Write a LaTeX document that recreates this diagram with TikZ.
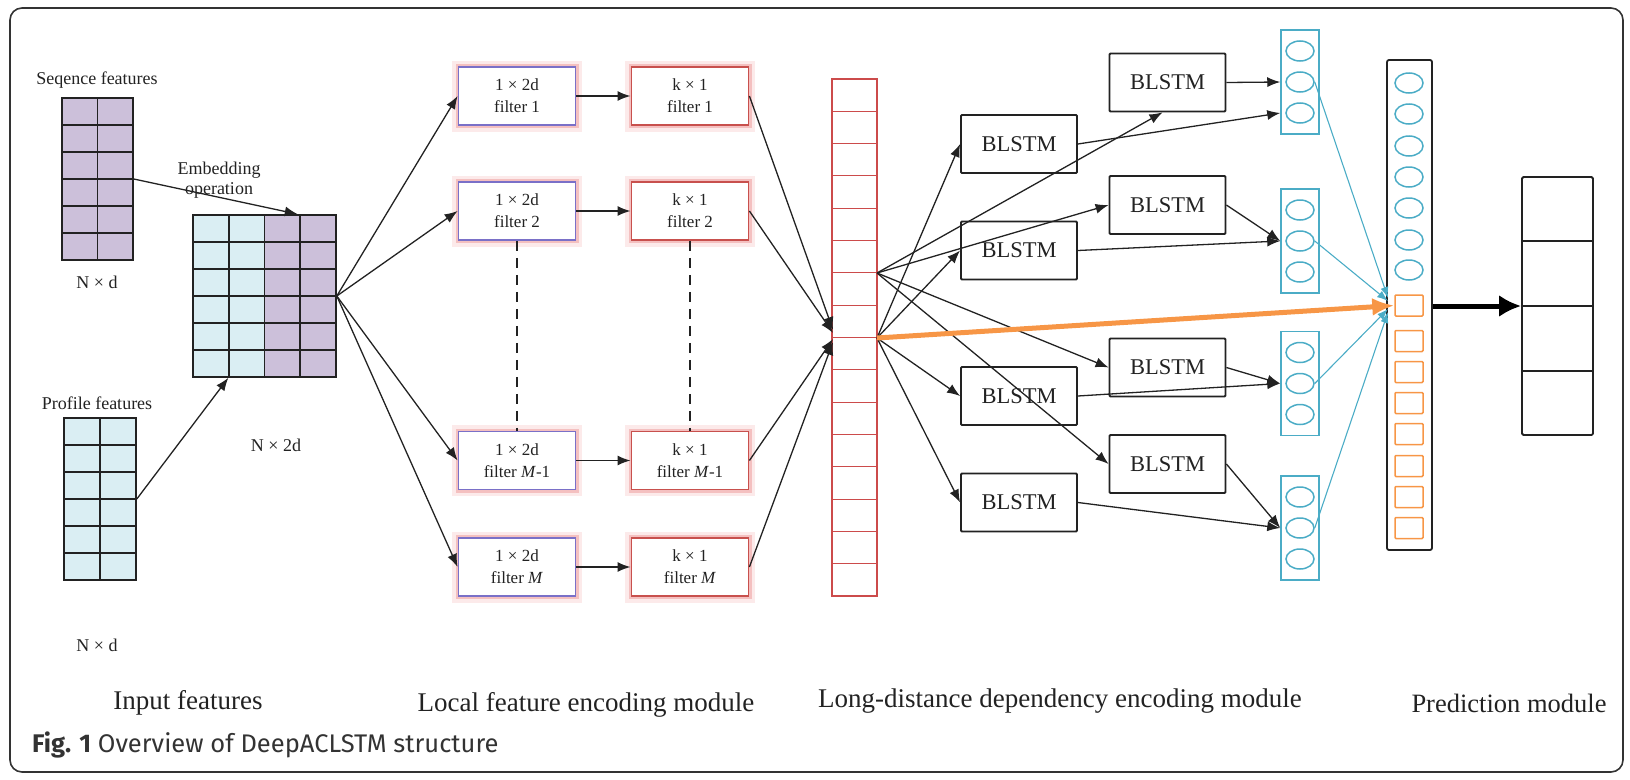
\documentclass[tikz,border=0pt]{standalone}
\usepackage{fontspec}
\setmainfont{Liberation Serif}
\newfontfamily\capfont{Fira Sans}
\usetikzlibrary{arrows.meta,calc,shapes.geometric}
\definecolor{purp}{HTML}{CCC0DA}
\definecolor{lblue}{HTML}{DAEEF3}
\definecolor{redc}{HTML}{CC4B4B}
\definecolor{fblue}{HTML}{7A70C8}
\definecolor{fred}{HTML}{C8504D}
\definecolor{glowA}{HTML}{FCEAEA}
\definecolor{glowB}{HTML}{F4C0C0}
\definecolor{cyanc}{HTML}{4BACC6}
\definecolor{orangec}{HTML}{F79646}
\definecolor{ink}{HTML}{222222}
\begin{document}
\begin{tikzpicture}[x=1pt,y=-1pt,
  gridline/.style={line width=1.6pt, draw=ink},
  gridbox/.style={draw=ink, line width=1.6pt, inner sep=0pt},
  conn/.style={-{Latex[length=13pt,width=10pt]}, line width=1.3pt, draw=ink},
  small/.style={font=\fontsize{18}{20}\selectfont, text=ink, align=center},
  big/.style={font=\fontsize{27}{32}\selectfont, text=ink},
  fbox/.style={minimum width=117pt, minimum height=58pt, inner sep=0pt, fill=white,
    line width=1.8pt, align=center, text=ink, font=\fontsize{17}{22}\selectfont,
    preaction={draw=glowA, line width=13pt, rounded corners=4pt},
    preaction={draw=glowB, line width=6pt, rounded corners=2pt}},
  blstm/.style={draw=ink, line width=1.8pt, minimum width=116pt, minimum height=58pt,
    inner sep=0pt, text=ink, font=\fontsize{22.5}{27}\selectfont, rounded corners=1pt},
  circ/.style={ellipse, draw=cyanc, line width=1.5pt, minimum width=28pt, minimum height=20pt, inner sep=0pt},
  osq/.style={draw=orangec, line width=1.5pt, minimum width=28pt, minimum height=21pt, inner sep=0pt, rounded corners=1pt},
  ccol/.style={draw=cyanc, line width=1.5pt, minimum width=38pt, minimum height=104pt, inner sep=0pt},
  bconn/.style={-{Latex[length=11pt,width=8pt]}, line width=1.1pt, draw=cyanc, color=cyanc},
  dashl/.style={line width=1.6pt, draw=ink, dash pattern=on 10pt off 7pt}
]
\useasboundingbox (0,0) rectangle (1630,779);
% outer frame
\draw[line width=1.6pt, draw=black!80, rounded corners=12pt] (10,8) rectangle (1623,772);

% ---------- Input features ----------
\node[small] (seqlab) at (97,80) {Seqence features};
\node[gridbox, fill=purp, minimum width=71pt, minimum height=162pt] (seq) at (97.5,179) {};
\foreach \i in {1,...,5} \draw[gridline] (62,{98+27*\i}) -- (133,{98+27*\i});
\draw[gridline] (97.5,98) -- (97.5,260);
\node[small] (seqdim) at (97,282) {N × d};

\node[small] (proflab) at (97,403) {Profile features};
\node[gridbox, fill=lblue, minimum width=72pt, minimum height=162pt] (prof) at (100,499) {};
\foreach \i in {1,...,5} \draw[gridline] (64,{418+27*\i}) -- (136,{418+27*\i});
\draw[gridline] (100,418) -- (100,580);
\node[small] (profdim) at (97,645) {N × d};

\fill[lblue] (193,215) rectangle (264.5,377);
\fill[purp] (264.5,215) rectangle (336,377);
\node[gridbox, minimum width=143pt, minimum height=162pt] (emb) at (264.5,296) {};
\foreach \i in {1,...,5} \draw[gridline] (193,{215+27*\i}) -- (336,{215+27*\i});
\foreach \x in {229,264.5,300} \draw[gridline] (\x,215) -- (\x,377);
\node[small] (embdim) at (276,445) {N × 2d};
\node[small] (emblab) at (219,180) {Embedding\\operation};

\draw[conn] (seq.east) -- ($(emb.north west)!0.73!(emb.north east)$);
\draw[conn] (prof.east) -- ($(emb.south west)!0.25!(emb.south east)$);

% ---------- Local feature encoding ----------
\node[fbox, draw=fblue] (l1) at (517,96) {1 × 2d\\filter 1};
\node[fbox, draw=fblue] (l2) at (517,211) {1 × 2d\\filter 2};
\node[fbox, draw=fblue] (l3) at (517,460.5) {1 × 2d\\filter \textit{M}-1};
\node[fbox, draw=fblue] (l4) at (517,567) {1 × 2d\\filter \textit{M}};
\node[fbox, draw=fred] (r1) at (690,96) {k × 1\\filter 1};
\node[fbox, draw=fred] (r2) at (690,211) {k × 1\\filter 2};
\node[fbox, draw=fred] (r3) at (690,460.5) {k × 1\\filter \textit{M}-1};
\node[fbox, draw=fred] (r4) at (690,567) {k × 1\\filter \textit{M}};
\foreach \i in {1,...,4} {
  \draw[conn] (emb.east) -- (l\i.west);
  \draw[conn, line width=1.7pt] (l\i.east) -- (r\i.east -| r\i.west);
}
\draw[dashl] (l2.south) -- (l3.north);
\draw[dashl] (r2.south) -- (r3.north);

% red column
\node[draw=redc, line width=1.1pt, minimum width=45pt, minimum height=517pt, inner sep=0pt] (redcol) at (854.5,337.5) {};
\foreach \i in {1,...,15} \draw[redc, line width=1.1pt] (832,{79+517/16*\i}) -- (877,{79+517/16*\i});
\coordinate (rin1) at (833,330);
\coordinate (rin2) at (833,333);
\coordinate (rin3) at (833,339);
\coordinate (rin4) at (833,342);
\draw[conn] (r1.east) -- (rin1);
\draw[conn] (r2.east) -- (rin2);
\draw[conn] (r3.east) -- (rin3);
\draw[conn] (r4.east) -- (rin4);

% ---------- Long-distance dependency ----------
\coordinate (A) at (877,273);
\coordinate (B) at (877,338);
\node[blstm] (L1) at (1019,144) {BLSTM};
\node[blstm] (L2) at (1019,250.5) {BLSTM};
\node[blstm] (L3) at (1019,396) {BLSTM};
\node[blstm] (L4) at (1019,502.5) {BLSTM};
\node[blstm] (R1) at (1167.5,82.5) {BLSTM};
\node[blstm] (R2) at (1167.5,205) {BLSTM};
\node[blstm] (R3) at (1167.5,367.5) {BLSTM};
\node[blstm] (R4) at (1167.5,464) {BLSTM};

\draw[conn] (A) -- ($(R1.south)+(-5,0)$);
\draw[conn] (A) -- (R2.west);
\draw[conn] (A) -- (R3.west);
\draw[conn] (A) -- (R4.west);
\draw[conn] (B) -- (L1.west);
\draw[conn] (B) -- (L2.west);
\draw[conn] (B) -- (L3.west);
\draw[conn] (B) -- (L4.west);

% cyan columns
\foreach \n/\cy in {1/82,2/241,3/383.5,4/528} {
  \node[ccol] (c\n) at (1300,\cy) {};
  \node[circ] (c\n-a) at (1300,{\cy-31}) {};
  \node[circ] (c\n-b) at (1300,\cy) {};
  \node[circ] (c\n-c) at (1300,{\cy+31}) {};
}
\draw[conn] (R1.east) -- (c1.west |- c1-b.west);
\draw[conn] (L1.east) -- (c1.west |- c1-c.west);
\draw[conn] (R2.east) -- (c2.west |- c2-b.west);
\draw[conn] (L2.east) -- (c2.west |- c2-b.west);
\draw[conn] (R3.east) -- (c3.west |- c3-b.west);
\draw[conn] (L3.east) -- (c3.west |- c3-b.west);
\draw[conn] (R4.east) -- (c4.west |- c4-b.west);
\draw[conn] (L4.east) -- (c4.west |- c4-b.west);

% ---------- Prediction ----------
\node[draw=ink, line width=1.8pt, rounded corners=2pt, minimum width=45pt, minimum height=490pt, inner sep=0pt] (pred) at (1409.5,305) {};
\foreach \y in {83,114,146,177,208,240,270} \node[circ] (p\y) at (1409,\y) {};
\foreach \i/\y in {1/305.5,2/341,3/372,4/403,5/434,6/466,7/497,8/528} \node[osq] (o\i) at (1409,\y) {};

\coordinate (P1) at (1388,298);
\coordinate (P2) at (1388,301);
\coordinate (P3) at (1388,309);
\coordinate (P4) at (1388,312);
\draw[bconn] (c1-b.east) -- (P1);
\draw[bconn] (c2-b.east) -- (P2);
\draw[bconn] (c3-b.east) -- (P3);
\draw[bconn] (c4-b.east) -- (P4);

\draw[line width=5pt, draw=orangec, -{Latex[length=22pt,width=18pt]}, color=orangec] (B) -- (o1.west);

\node[draw=ink, line width=1.8pt, rounded corners=1.5pt, minimum width=71pt, minimum height=258pt, inner sep=0pt] (outc) at (1557.5,306) {};
\foreach \y in {241,306,371} \draw[line width=1.8pt, draw=ink] (1522,\y) -- (1593,\y);
\draw[line width=5pt, draw=black, -{Latex[length=22pt,width=22pt]}] (pred.east |- outc.west) -- (outc.west);

% ---------- labels ----------
\node[big] (t1) at (188,703) {Input features};
\node[big] (t2) at (586,705) {Local feature encoding module};
\node[big] (t3) at (1060,701) {Long-distance dependency encoding module};
\node[big, font=\fontsize{26.5}{31}\selectfont] (t4) at (1509,703) {Prediction module};
\node[anchor=west, font=\capfont\fontsize{25.5}{30}\selectfont, text=black!80, inner sep=0pt] (cap) at (32,745) {\textbf{Fig. 1} Overview of DeepACLSTM structure};
\end{tikzpicture}
\end{document}
